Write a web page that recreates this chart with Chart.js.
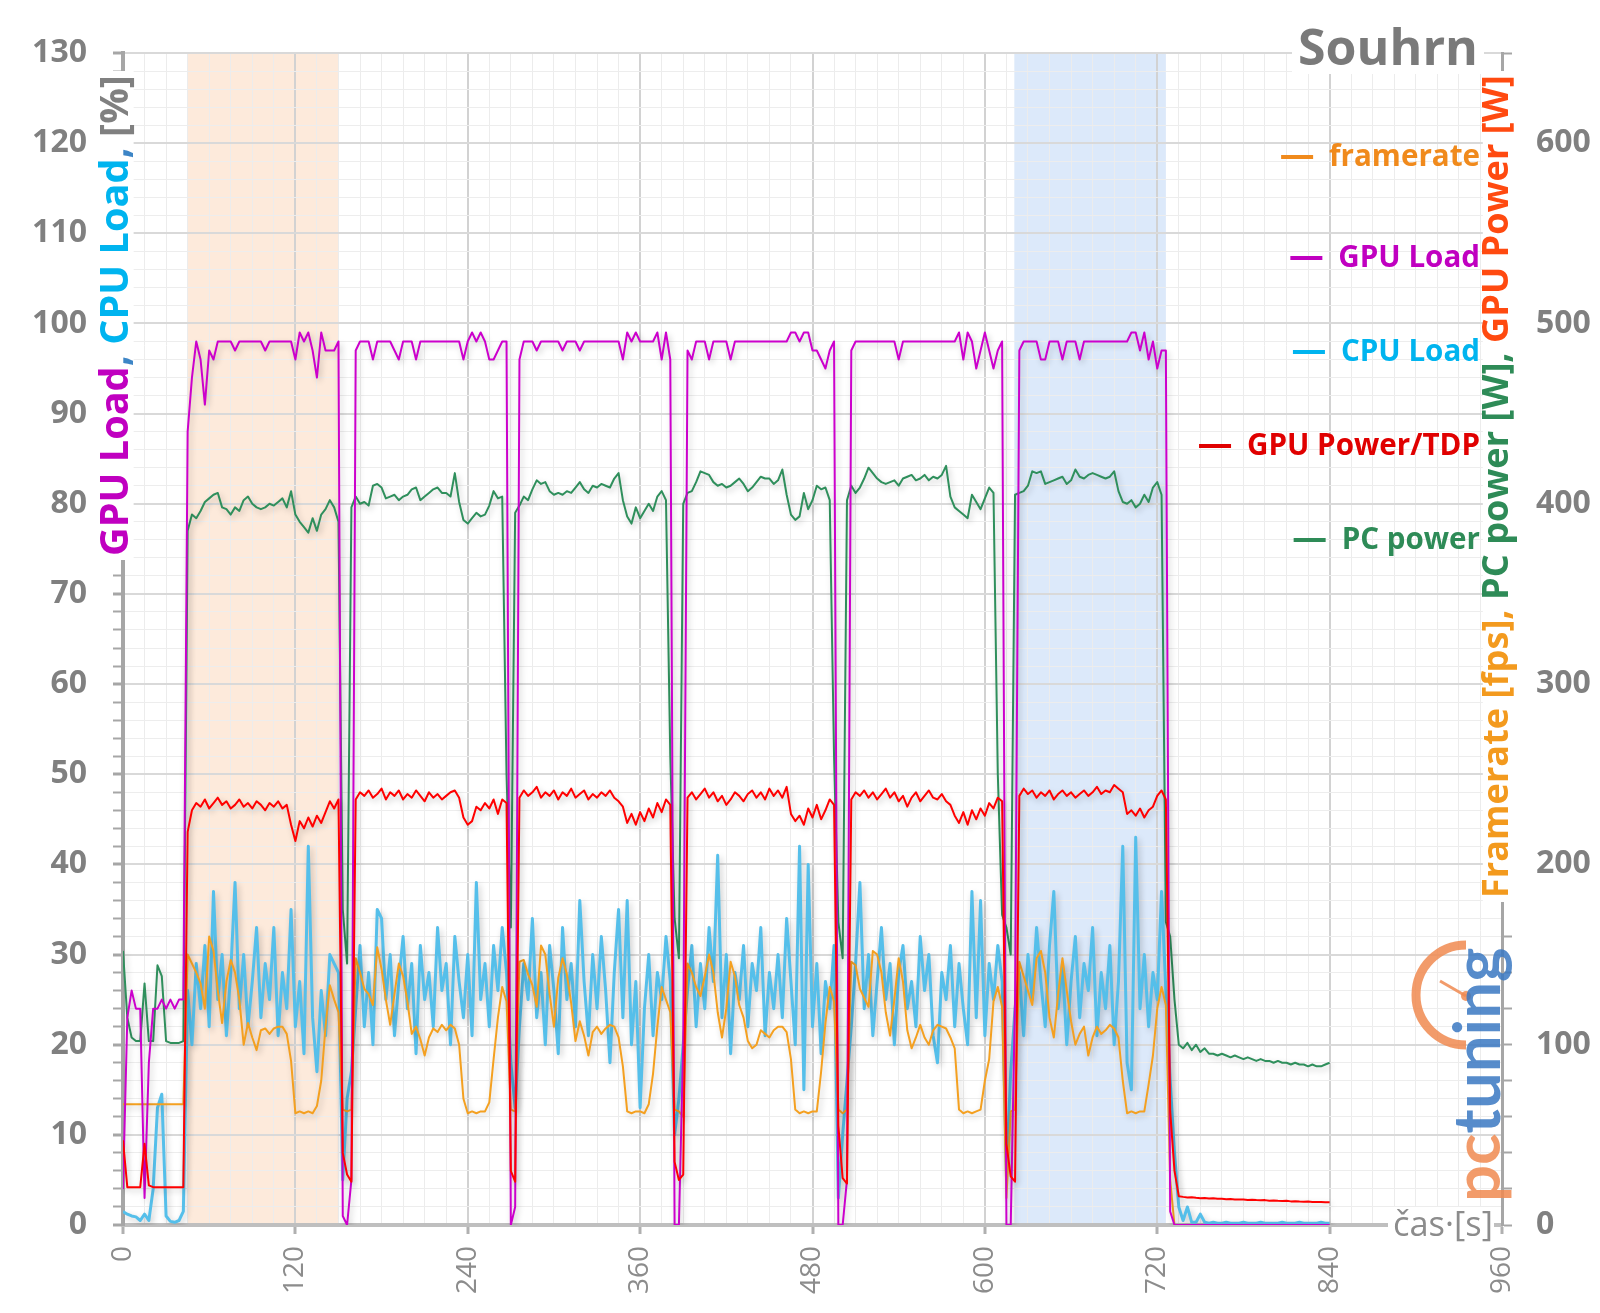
<!DOCTYPE html>
<html lang="cs">
<head>
<meta charset="UTF-8">
<title>Souhrn</title>
<script src="https://cdn.jsdelivr.net/npm/chart.js"></script>
<style>
  html, body { margin: 0; padding: 0; background: #fff; }
  #wrap { position: relative; width: 1600px; height: 1313px; }
</style>
</head>
<body>
<div id="wrap"><canvas id="souhrn"></canvas></div>
<script>
// sample times [s]
const times = [
  0,3,6,9,12,15,18,21,24,27,30,33,36,39,42,45,48,51,54,57,
  60,63,66,69,72,75,78,81,84,87,90,93,96,99,102,105,108,111,114,117,
  120,123,126,129,132,135,138,141,144,147,150,153,156,159,162,165,168,171,174,177,
  180,183,186,189,192,195,198,201,204,207,210,213,216,219,222,225,228,231,234,237,
  240,243,246,249,252,255,258,261,264,267,270,273,276,279,282,285,288,291,294,297,
  300,303,306,309,312,315,318,321,324,327,330,333,336,339,342,345,348,351,354,357,
  360,363,366,369,372,375,378,381,384,387,390,393,396,399,402,405,408,411,414,417,
  420,423,426,429,432,435,438,441,444,447,450,453,456,459,462,465,468,471,474,477,
  480,483,486,489,492,495,498,501,504,507,510,513,516,519,522,525,528,531,534,537,
  540,543,546,549,552,555,558,561,564,567,570,573,576,579,582,585,588,591,594,597,
  600,603,606,609,612,615,618,621,624,627,630,633,636,639,642,645,648,651,654,657,
  660,663,666,669,672,675,678,681,684,687,690,693,696,699,702,705,708,711,714,717,
  720,723,726,729,732,735,738,741,744,747,750,753,756,759,762,765,768,771,774,777,
  780,783,786,789,792,795,798,801,804,807,810,813,816,819,822,825,828,831,834,837,
  840
];

// GPU Load [%]
const gpuLoad = [
  4,23,26,24,24,3,18,24,24,25,24,25,24,25,25,
  88,94,98,96,91,97,96,98,98,98,98,97,98,98,98,98,98,98,97,98,98,98,98,98,98,96,99,98,99,97,94,99,97,97,97,98,
  1,0,5,
  97,98,98,98,96,98,98,98,98,97,96,98,98,98,96,98,98,98,98,98,98,98,98,98,98,96,98,99,98,99,98,96,96,97,98,98,
  0,2,
  96,98,98,98,97,98,98,98,98,98,97,98,98,98,97,98,98,98,98,98,98,98,98,98,96,99,98,99,98,98,98,98,99,96,99,96,
  0,0,20,
  97,96,98,98,98,96,98,98,98,98,96,98,98,98,98,98,98,98,98,98,98,98,98,98,99,99,98,99,99,97,97,96,95,97,98,
  0,0,5,
  97,98,98,98,98,98,98,98,98,98,98,96,98,98,98,98,98,98,98,98,98,98,98,98,98,99,96,99,98,95,97,99,97,95,97,98,
  0,0,25,
  97,98,98,98,98,96,96,98,98,98,96,98,98,98,96,98,98,98,98,98,98,98,98,98,98,98,99,99,97,99,96,98,95,97,97,
  1.5,0,0,0,0,0,0,0,0,0,
  0,0,0,0,0,0,0,0,0,0,
  0,0,0,0,0,0,0,0,0,0,
  0,0,0,0,0,0,0,0
];

// CPU Load [%]
const cpuLoad = [
  1.5,1.2,1.0,0.9,0.5,1.2,0.5,4,13,14.5,1,0.4,0.3,0.5,1.5,
  26,20,29,24,31,22,37,25,30,21,28,38,24,30,22,27,33,23,29,25,33,21,28,24,35,22,27,19,42,23,17,26,21,30,29,28,
  5,14,17,
  24,31,22,28,20,35,34,25,30,21,27,32,24,29,19,31,25,28,22,33,26,29,20,32,27,23,30,21,38,25,29,22,31,26,33,28,
  18,13,
  22,29,25,34,23,28,20,31,26,19,33,25,29,22,36,27,21,30,24,32,26,18,28,35,23,36,20,27,13,24,30,21,28,25,32,27,
  10,14,20,
  26,31,22,29,24,33,27,41,23,30,19,28,25,31,22,29,26,33,21,28,24,30,23,34,27,20,42,15,40,22,29,19,27,24,31,
  3,10,16,
  22,29,38,24,30,21,27,33,25,29,20,28,31,24,27,22,32,26,30,21,18,28,25,31,22,29,24,20,37,23,36,21,29,25,31,27,
  6,17,24,
  28,21,30,25,33,27,22,31,37,24,29,20,27,32,23,29,26,33,21,28,24,31,20,27,42,18,15,43,24,30,22,28,25,37,26,
  16,8,2,0.5,2,0.3,0.3,1.2,0.3,0.2,
  0.3,0.2,0.2,0.3,0.2,0.2,0.2,0.3,0.2,0.2,
  0.2,0.3,0.2,0.2,0.2,0.2,0.3,0.2,0.2,0.2,
  0.3,0.2,0.2,0.2,0.2,0.3,0.2,0.2
];

// framerate [fps]
const framerate = [
  67,67,67,67,67,67,67,67,67,67,67,67,67,67,67,
  150,145,140,134,120,160,152,130,112,135,147,140,125,100,112,104,97,108,109,106,109,110,110,106,91,62,63,62,63,62,66,80,110,133,125,118,
  64,63,64,
  148,140,131,128,122,154,142,125,111,128,145,138,124,106,110,103,94,104,109,107,111,108,111,109,100,70,62,63,62,63,63,68,92,115,132,124,
  64,63,
  146,147,139,133,121,155,150,128,110,137,148,139,123,102,113,105,94,107,110,106,109,111,110,104,88,63,62,63,63,62,67,84,110,132,125,118,
  64,63,60,
  145,140,132,127,138,150,140,118,104,120,146,138,122,115,102,98,100,108,106,104,108,110,110,107,92,64,62,63,62,63,63,85,112,132,124,
  64,62,64,
  146,144,131,126,121,152,150,140,118,105,125,148,135,108,98,104,111,104,100,108,111,110,109,104,98,64,62,63,62,63,64,80,92,124,132,121,
  15,63,64,
  146,138,130,122,148,152,140,115,104,128,148,130,113,100,106,110,94,104,110,106,108,111,109,104,80,62,63,62,63,63,78,94,120,132,122,
  25,0,0,0,0,0,0,0,0,0,
  0,0,0,0,0,0,0,0,0,0,
  0,0,0,0,0,0,0,0,0,0,
  0,0,0,0,0,0,0,0
];

// GPU Power [W]
const gpuPower = [
  47,21,21,21,21,45,22,21,21,21,21,21,21,21,21,
  218,230,234,232,236,231,234,237,233,235,231,233,236,232,234,231,235,233,230,234,232,235,231,233,222,213,224,220,226,221,227,223,229,235,231,236,
  40,28,24,
  236,240,238,241,237,239,242,236,240,238,241,236,239,237,241,238,235,240,237,239,236,238,240,241,237,226,222,224,232,230,234,231,236,228,236,234,
  30,24,
  237,241,238,240,243,237,240,238,241,236,240,238,242,237,239,241,236,239,237,240,238,241,237,235,232,223,228,222,229,224,231,226,234,229,236,233,
  35,25,28,
  237,240,236,239,242,237,240,235,238,233,236,240,238,235,239,241,237,240,236,242,238,241,237,243,228,224,227,222,231,226,233,225,230,236,233,
  55,26,23,
  236,240,238,241,237,240,236,239,242,237,240,235,238,232,237,240,235,238,241,237,236,239,235,233,227,223,229,222,230,225,231,227,234,231,237,235,
  45,27,24,
  238,242,239,241,237,240,238,241,236,239,241,238,240,237,239,241,238,240,243,239,241,240,244,242,240,228,230,227,231,226,230,232,238,241,236,
  63,30,16,15.6,15.3,15.4,15.1,14.9,15.0,14.7,
  14.8,14.5,14.6,14.3,14.4,14.2,14.1,14.2,13.9,14.0,
  13.8,13.7,13.8,13.5,13.6,13.4,13.3,13.4,13.1,13.2,
  13.0,12.9,13.0,12.8,12.7,12.8,12.6,12.6
];

// PC power [W]
const pcPower = [
  152,115,104,102,102,134,102,102,144,138,102,101,101,101,102,
  385,394,392,396,401,403,405,406,398,397,394,398,396,402,404,400,398,397,398,400,399,401,403,398,407,394,390,387,384,392,385,394,397,402,398,390,
  175,145,398,
  404,400,401,399,410,411,409,403,404,405,402,404,405,408,409,402,404,406,408,409,406,406,404,417,401,391,389,392,395,393,394,399,407,403,404,250,
  165,395,
  399,404,402,408,413,411,412,407,405,406,405,407,406,409,412,408,406,410,409,411,410,409,414,417,402,393,389,398,392,396,400,396,404,407,402,260,
  170,148,400,
  406,407,412,418,417,416,412,410,411,409,410,412,414,411,407,409,412,415,414,414,411,413,419,405,394,391,393,406,397,402,410,408,409,402,260,
  168,148,402,
  410,406,409,414,420,417,414,412,411,412,413,410,414,415,416,413,414,416,413,415,414,416,421,404,398,396,394,392,405,401,397,403,409,406,250,172,
  165,150,405,
  406,407,410,418,417,418,411,412,413,414,415,411,413,419,415,414,416,417,416,415,414,415,418,407,401,400,402,398,400,405,401,409,412,405,168,
  160,125,100,98,101,97,100,96,98,95,
  95,94,95,94,93,94,93,92,93,92,
  91,92,91,91,90,91,90,90,89,90,
  89,89,88,89,88,88,89,90
];

// highlighted test sections [s]
const orangeBand = [45, 150];
const blueBand = [620.5, 726];

const legendLabels = ['framerate', 'GPU Load', 'CPU Load', 'GPU Power/TDP', 'PC power'];
const leftTitle = [['GPU Load', '#c000c0'], [', ', '#3d85c6'], ['CPU Load', '#00b4ef'], [', ', '#3d85c6'], ['[%]', '#808080']];
const rightTitle = [['Framerate [fps]', '#f39a1e'], [', ', '#f39a1e'], ['PC power [W]', '#2e8b57'], [', ', '#2e8b57'], ['GPU Power [W]', '#ff4a10']];

const FONT = '"Open Sans", "DejaVu Sans", sans-serif';
const GRAY = '#808080';

function fitSize(ctx, text, weight, target) {
    ctx.font = weight + ' 100px ' + FONT;
    return 100 * target / ctx.measureText(text).width;
}

function rotatedRuns(ctx, runs, cx, y0, length) {
    const text = runs.map(r => r[0]).join('');
    const size = fitSize(ctx, text, 'bold', length);
    ctx.save();
    ctx.font = 'bold ' + size + 'px ' + FONT;
    ctx.translate(cx, y0);
    ctx.rotate(-Math.PI / 2);
    ctx.fillStyle = '#fff';
    ctx.fillRect(-4, -size * 0.42, length + 8, size * 0.84);
    ctx.textBaseline = 'middle';
    let px = 0;
    runs.forEach(([t, col]) => {
        ctx.fillStyle = col;
        ctx.fillText(t, px, 0);
        px += ctx.measureText(t).width;
    });
    ctx.restore();
}

const decor = {
    id: 'decor',
    beforeDraw(chart) {
        const {ctx, chartArea: a, scales: {x}} = chart;
        ctx.save();
        [[orangeBand, '#fdeadb'], [blueBand, '#dce9fa']].forEach(([b, col]) => {
            const x1 = x.getPixelForValue(b[0]);
            const x2 = x.getPixelForValue(b[1]);
            ctx.fillStyle = col;
            ctx.fillRect(x1, a.top, x2 - x1, a.bottom - a.top);
        });
        ctx.restore();
    },
    beforeDatasetDraw(chart) {
        const c = chart.ctx;
        c.save();
        c.shadowColor = 'rgba(0,0,0,0.22)';
        c.shadowBlur = 6;
        c.shadowOffsetX = 2;
        c.shadowOffsetY = 3;
    },
    afterDatasetDraw(chart) {
        chart.ctx.restore();
    },
    afterDraw(chart) {
        const ctx = chart.ctx;

        rotatedRuns(ctx, leftTitle, 117, 556, 481);
        rotatedRuns(ctx, rightTitle, 1498, 898, 823);

        // title
        ctx.save();
        const ts = fitSize(ctx, 'Souhrn', 'bold', 180);
        ctx.font = 'bold ' + ts + 'px ' + FONT;
        ctx.fillStyle = '#fff';
        ctx.fillRect(1292, 18, 192, 56);
        ctx.fillStyle = '#7a7a7a';
        ctx.textAlign = 'right';
        ctx.textBaseline = 'alphabetic';
        ctx.fillText('Souhrn', 1478, 65);

        // x axis title
        const xs = fitSize(ctx, 'čas·[s]', 'normal', 100);
        ctx.font = 'normal ' + xs + 'px ' + FONT;
        ctx.fillStyle = '#fff';
        ctx.fillRect(1388, 1207, 106, 40);
        ctx.fillStyle = '#8c8c8c';
        ctx.textAlign = 'left';
        ctx.textBaseline = 'middle';
        ctx.fillText('čas·[s]', 1393, 1226);

        // legend
        const legendY = [157, 258, 352, 446, 540];
        const legendCol = ['#f08a1c', '#c000c0', '#00b4ef', '#e00000', '#2e8b57'];
        const ls = fitSize(ctx, 'GPU Power/TDP', 'bold', 233);
        ctx.font = 'bold ' + ls + 'px ' + FONT;
        ctx.textAlign = 'right';
        ctx.textBaseline = 'middle';
        legendLabels.forEach((lab, i) => {
            const w = ctx.measureText(lab).width;
            const x2 = 1480 - w - 16;
            ctx.strokeStyle = legendCol[i];
            ctx.lineWidth = 4;
            ctx.beginPath();
            ctx.moveTo(x2 - 32, legendY[i]);
            ctx.lineTo(x2, legendY[i]);
            ctx.stroke();
            ctx.fillStyle = legendCol[i];
            ctx.fillText(lab, 1480, legendY[i] + 1);
        });
        ctx.restore();

        // pctuning watermark
        ctx.save();
        ctx.globalAlpha = 0.85;
        ctx.strokeStyle = '#f08a50';
        ctx.lineWidth = 9;
        ctx.beginPath();
        ctx.arc(1466, 995, 50, Math.PI / 2, Math.PI * 1.5);
        ctx.stroke();
        ctx.lineWidth = 3;
        ctx.beginPath();
        ctx.moveTo(1440, 981);
        ctx.lineTo(1466, 996);
        ctx.stroke();
        ctx.fillStyle = '#f08a50';
        ctx.beginPath();
        ctx.arc(1466, 996, 5, 0, Math.PI * 2);
        ctx.fill();
        const ps = fitSize(ctx, 'pctuning', 'bold', 289);
        ctx.translate(1500, 1202);
        ctx.rotate(-Math.PI / 2);
        ctx.font = 'bold ' + ps + 'px Lato, ' + FONT;
        ctx.textBaseline = 'alphabetic';
        ctx.fillStyle = '#f08a50';
        ctx.fillText('pc', 0, 0);
        const wpc = ctx.measureText('pc').width;
        ctx.fillStyle = '#3a78c2';
        ctx.fillText('tuning', wpc, 0);
        ctx.restore();

        // data length check
        const bad = [['gpuLoad', gpuLoad], ['cpuLoad', cpuLoad], ['framerate', framerate], ['gpuPower', gpuPower], ['pcPower', pcPower]]
            .filter(([, v]) => v.length !== times.length).map(([k, v]) => k + ':' + v.length);
        if (bad.length) {
            ctx.save();
            ctx.fillStyle = 'red';
            ctx.font = 'bold 30px sans-serif';
            ctx.fillText('LEN ' + times.length + ' ' + bad.join(' '), 300, 30);
            ctx.restore();
        }
    }
};

const isMajor = (c, step) => c.tick && Math.abs(c.tick.value % step) < 1e-6;

new Chart(document.getElementById('souhrn').getContext('2d'), {
    type: 'line',
    data: {
        labels: times,
        datasets: [
            { label: legendLabels[0], data: framerate, yAxisID: 'y1', borderColor: '#f4a020', borderWidth: 2, order: 3 },
            { label: legendLabels[1], data: gpuLoad, yAxisID: 'y', borderColor: '#cc00cc', borderWidth: 2, order: 2 },
            { label: legendLabels[2], data: cpuLoad, yAxisID: 'y', borderColor: '#55bfea', borderWidth: 3, order: 4 },
            { label: legendLabels[3], data: gpuPower, yAxisID: 'y1', borderColor: '#ff0000', borderWidth: 2, order: 1 },
            { label: legendLabels[4], data: pcPower, yAxisID: 'y1', borderColor: '#2f8f5c', borderWidth: 2, order: 5 }
        ]
    },
    options: {
        responsive: true,
        maintainAspectRatio: false,
        animation: false,
        layout: { padding: { top: 53, left: 0, right: 0, bottom: 0 } },
        elements: {
            point: { radius: 0 },
            line: { tension: 0, borderJoinStyle: 'round' }
        },
        plugins: {
            legend: { display: false },
            tooltip: { enabled: false }
        },
        scales: {
            x: {
                type: 'linear',
                min: 0,
                max: 960,
                afterFit: s => { s.height = 88; },
                ticks: {
                    stepSize: 15,
                    autoSkip: false,
                    minRotation: 90,
                    maxRotation: 90,
                    padding: 12,
                    color: '#8c8c8c',
                    font: { family: FONT, size: 28 },
                    callback: v => (Math.abs(v % 120) < 1e-6 ? v : '')
                },
                grid: {
                    color: c => (isMajor(c, 120) ? '#d2d2d2' : '#ececec'),
                    lineWidth: c => (isMajor(c, 120) ? 2 : 1),
                    tickLength: 9,
                    tickWidth: 3,
                    tickColor: c => (isMajor(c, 120) ? '#b0b0b0' : 'rgba(0,0,0,0)')
                },
                border: { color: '#bfbfbf', width: 4 }
            },
            y: {
                position: 'left',
                min: 0,
                max: 130,
                afterFit: s => { s.width = 123; },
                ticks: {
                    stepSize: 2,
                    autoSkip: false,
                    padding: 26,
                    color: GRAY,
                    font: { family: FONT, size: 32, weight: 'bold' },
                    callback: v => (Math.abs(v % 10) < 1e-6 ? v : '')
                },
                grid: {
                    color: c => (isMajor(c, 10) ? '#d9d9d9' : '#ededed'),
                    lineWidth: c => (isMajor(c, 10) ? 2 : 1),
                    tickLength: 10,
                    tickWidth: c => (isMajor(c, 10) ? 3 : 2),
                    tickColor: '#a6a6a6'
                },
                border: { color: '#a6a6a6', width: 4 }
            },
            y1: {
                position: 'right',
                min: 0,
                max: 650,
                afterFit: s => { s.width = 98; },
                ticks: {
                    stepSize: 20,
                    autoSkip: false,
                    padding: 24,
                    color: GRAY,
                    font: { family: FONT, size: 32, weight: 'bold' },
                    callback: v => (Math.abs(v % 100) < 1e-6 ? v : '')
                },
                grid: {
                    drawOnChartArea: false,
                    tickLength: 10,
                    tickWidth: 2,
                    tickColor: '#a6a6a6'
                },
                border: { color: '#a6a6a6', width: 3 }
            }
        }
    },
    plugins: [decor]
});
</script>
</body>
</html>
